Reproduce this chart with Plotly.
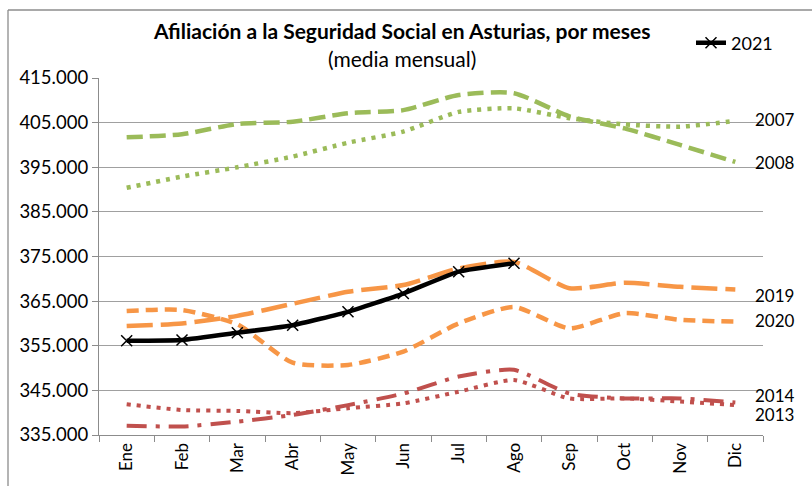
import plotly.graph_objects as go

months = ["Ene", "Feb", "Mar", "Abr", "May", "Jun", "Jul", "Ago", "Sep", "Oct", "Nov", "Dic"]

y2007 = [390400, 392900, 395000, 397400, 400500, 403000, 407400, 408200, 406000, 404600, 404100, 405400]
y2008 = [401700, 402400, 404700, 405200, 407100, 407800, 411200, 411600, 406400, 403700, 400000, 396200]
y2013 = [341900, 340600, 340400, 339900, 341000, 342100, 344700, 347300, 343200, 343200, 342500, 341700]
y2014 = [337100, 336900, 338000, 339500, 341700, 344300, 348100, 349600, 344300, 343200, 343200, 342300]
y2019 = [359400, 360000, 361700, 364400, 367100, 368600, 372300, 373800, 367900, 369100, 368200, 367600]
y2020 = [362800, 363000, 359800, 351200, 350700, 353700, 360000, 363700, 358900, 362300, 360800, 360400]
y2021 = [356100, 356300, 357900, 359600, 362600, 366700, 371600, 373500]

GREEN = "#9BBB59"
ORANGE = "#F79646"
RED = "#C0504D"
FONT = "Lato"

L, R, T, B = 99, 49, 78, 51
W, H = 812, 486
pw, ph = W - L - R, H - T - B


def px_x(px):
    return (px - L) / pw


def px_y(py):
    return (H - B - py) / ph


fig = go.Figure()

series = [
    ("2007", y2007, GREEN, "4px,6px", 4.5, 1),
    ("2008", y2008, GREEN, "16px,7px", 4.5, -1),
    ("2019", y2019, ORANGE, "26px,8px", 4.5, -6),
    ("2020", y2020, ORANGE, "12px,7px", 4.5, 1),
    ("2014", y2014, RED, "20px,9px,4px,9px", 4, 6.5),
    ("2013", y2013, RED, "4px,6px", 4, -9.5),
]

annots = []
for name, vals, color, dash, width, shift in series:
    fig.add_trace(go.Scatter(
        x=months, y=vals, name=name, mode="lines",
        line=dict(color=color, width=width, dash=dash, shape="spline", smoothing=0.6),
        showlegend=False, hoverinfo="skip",
    ))
    annots.append(dict(
        x=px_x(754), xref="paper", xanchor="left",
        y=vals[-1], yref="y", yanchor="middle", yshift=shift,
        text=name, showarrow=False, borderpad=0,
        font=dict(family=FONT, size=17, color="black"),
    ))

fig.add_trace(go.Scatter(
    x=months[:len(y2021)], y=y2021, name="2021", mode="lines+markers",
    line=dict(color="black", width=4.5, shape="spline", smoothing=0.4),
    marker=dict(symbol="x-thin", size=11, line=dict(color="black", width=1.5)),
    showlegend=True,
))

annots += [
    dict(text="<b>Afiliación a la Seguridad Social en Asturias, por meses</b>",
         x=px_x(402), y=px_y(30), xref="paper", yref="paper",
         xanchor="center", yanchor="middle", showarrow=False,
         font=dict(family=FONT, size=21, color="black")),
    dict(text="(media mensual)",
         x=px_x(402), y=px_y(59), xref="paper", yref="paper",
         xanchor="center", yanchor="middle", showarrow=False,
         font=dict(family=FONT, size=21, color="black")),
]

fig.update_layout(
    width=W, height=H,
    margin=dict(l=L, r=R, t=T, b=B, autoexpand=False),
    paper_bgcolor="white", plot_bgcolor="white",
    separators=",.",
    font=dict(family=FONT, size=18, color="black"),
    legend=dict(x=px_x(691), y=px_y(43), xanchor="left", yanchor="middle",
                bgcolor="rgba(0,0,0,0)", font=dict(family=FONT, size=18),
                itemwidth=30, tracegroupgap=0),
    annotations=annots,
    shapes=[
        dict(type="line", xref="paper", yref="paper",
             x0=px_x(8), x1=px_x(830), y0=px_y(10), y1=px_y(10),
             line=dict(color="#8c8c8c", width=1.3)),
        dict(type="line", xref="paper", yref="paper",
             x0=px_x(8), x1=px_x(8), y0=px_y(10), y1=px_y(500),
             line=dict(color="#8c8c8c", width=1.3)),
    ],
)

fig.update_xaxes(
    type="category", categoryorder="array", categoryarray=months,
    showgrid=False, showline=True, linecolor="#8c8c8c", linewidth=1.3,
    ticks="outside", tickson="boundaries", ticklen=6, tickcolor="#8c8c8c",
    tickangle=-90, tickfont=dict(family=FONT, size=17),
    range=[-0.5, 11.5], automargin=False,
)

fig.update_yaxes(
    range=[335000, 415000], dtick=10000, tick0=335000,
    tickformat=",.0f",
    showgrid=True, gridcolor="#a0a0a0", gridwidth=1.3,
    showline=True, linecolor="#8c8c8c", linewidth=1.3,
    ticks="outside", ticklen=6, tickcolor="#8c8c8c",
    tickfont=dict(family=FONT, size=18.5),
    zeroline=False, automargin=False,
)

fig.write_html(
    "out.html",
    config={"displayModeBar": False},
    post_script="document.body.style.margin='0px';document.body.style.padding='0px';",
)
